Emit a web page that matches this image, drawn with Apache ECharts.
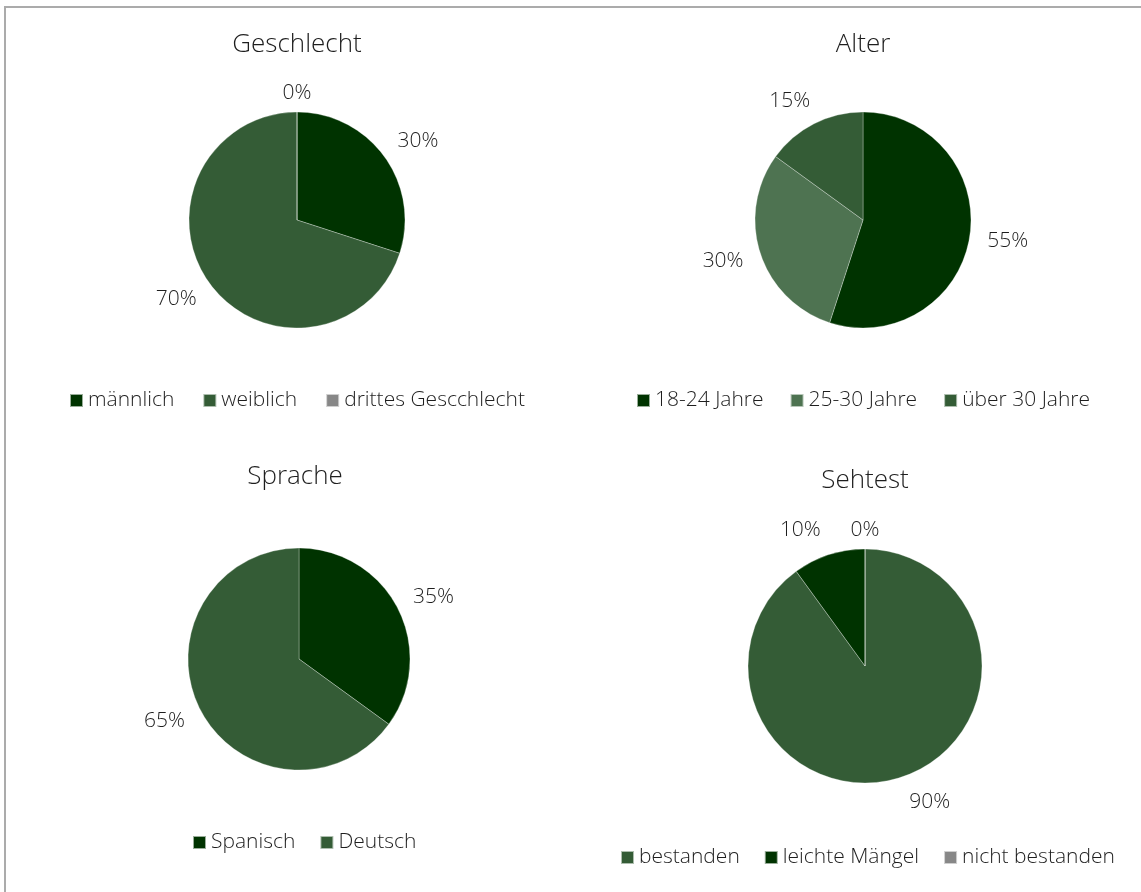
<!DOCTYPE html>
<html>
<head>
<meta charset="utf-8">
<script src="https://cdn.jsdelivr.net/npm/echarts@6/dist/echarts.min.js"></script>
<style>
html,body{margin:0;padding:0;background:#fff;}
#c{width:1141px;height:892px;}
</style>
</head>
<body>
<div id="c"></div>
<script>
// Data
const geschlechtCats = ['männlich', 'weiblich', 'drittes Gescchlecht'];
const geschlechtVals = [30, 70, 0];
const alterCats = ['18-24 Jahre', '25-30 Jahre', 'über 30 Jahre'];
const alterVals = [55, 30, 15];
const spracheCats = ['Spanisch', 'Deutsch'];
const spracheVals = [35, 65];
const sehtestCats = ['bestanden', 'leichte Mängel', 'nicht bestanden'];
const sehtestVals = [90, 10, 0];

const DARK = '#003300', MID = '#345C36', LIGHT = '#4E7351', GRAY = '#878787';
const FONT = '"Open Sans", "Noto Sans", sans-serif';
const TXT = '#1e1e1e';

function mk(cats, vals, colors) {
  return cats.map((n, i) => ({ name: n, value: vals[i], itemStyle: { color: colors[i] } }));
}

function pie(data, center, radius, len, len2) {
  return {
    type: 'pie',
    center: center,
    radius: radius,
    startAngle: 90,
    clockwise: true,
    avoidLabelOverlap: false,
    percentPrecision: 0,
    data: data,
    itemStyle: { borderColor: 'rgba(255,255,255,0.6)', borderWidth: 0.5 },
    label: {
      show: true, position: 'outside', formatter: '{d}%', distanceToLabelLine: 0,
      fontFamily: FONT, fontSize: 21, fontWeight: 300, color: TXT
    },
    labelLine: { show: false, length: len, length2: len2 },
    labelLayout: function (p) {
      if (p.text === '0%') return { x: p.rect.x + p.rect.width / 2, align: 'center', dy: 7 };
      return {};
    },
    emphasis: { disabled: true },
    animation: false
  };
}

function title(text, x, y) {
  return { text: text, left: x, top: y, textAlign: 'center',
    textStyle: { fontFamily: FONT, fontSize: 26, fontWeight: 300, color: TXT } };
}
function legend(cats, x, y, gap) {
  return { data: cats, left: x, top: y, orient: 'horizontal', icon: 'rect',
    itemWidth: 13, itemHeight: 13, itemGap: gap,
    textStyle: { fontFamily: FONT, fontSize: 21, fontWeight: 300, color: TXT },
    selectedMode: false };
}

const chart = echarts.init(document.getElementById('c'));
chart.setOption({
  backgroundColor: '#fff',
  animation: false,
  graphic: [{ type: 'rect', shape: { x: 5, y: 7, width: 1300, height: 1000 },
    style: { fill: 'none', stroke: '#ABABAB', lineWidth: 2 }, silent: true }],
  title: [
    title('Geschlecht', 292, 27),
    title('Alter', 858, 27),
    title('Sprache', 290, 459),
    title('Sehtest', 860, 463)
  ],
  legend: [
    legend(geschlechtCats, 64, 385, 28),
    legend(alterCats, 631, 385, 26),
    legend(spracheCats, 187, 827, 24),
    legend(sehtestCats, 615, 842, 24)
  ],
  series: [
    pie(mk(geschlechtCats, geschlechtVals, [DARK, MID, GRAY]), [297, 220], 108, 26, -8),
    pie(mk(alterCats, alterVals, [DARK, LIGHT, MID]), [863, 220], 108, 26, -8),
    pie(mk(spracheCats, spracheVals, [DARK, MID]), [299, 659], 111, 26, -8),
    pie(mk(sehtestCats, sehtestVals, [MID, DARK, GRAY]), [865, 666], 117, 26, 0)
  ]
});
</script>
</body>
</html>
